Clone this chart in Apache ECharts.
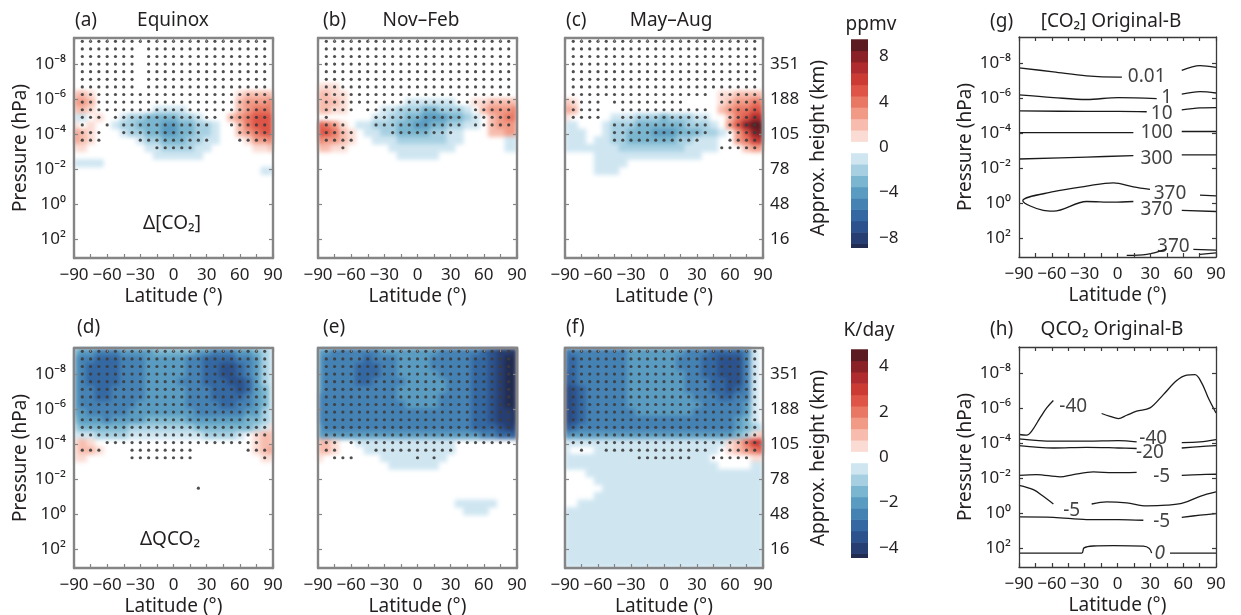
<!DOCTYPE html>
<html>
<head>
<meta charset="utf-8">
<script src="https://cdn.jsdelivr.net/npm/echarts@6.0.0/dist/echarts.min.js"></script>
<style>
html, body { margin: 0; padding: 0; background: #fff; }
#main { width: 1241px; height: 615px; }
</style>
</head>
<body>
<div id="main"></div>
<script>
// model grid: latitude columns (deg) and levels in scale heights above 1000 hPa
const LATS = [-90, -82.5, -75, -67.5, -60, -52.5, -45, -37.5, -30, -22.5, -15, -7.5, 0,
  7.5, 15, 22.5, 30, 37.5, 45, 52.5, 60, 67.5, 75, 82.5, 90];
const ZLEV = [28.3, 27.3, 26.3, 25.3, 24.3, 23.3, 22.3, 21.3, 20.3, 19.3, 18.3, 17.3, 16.3, 15.3,
  14.3, 13.3, 12.3, 11.3, 10.3, 9.3, 8.3, 7.3, 6.3, 5.3, 4.3, 3.3, 2.3, 1.3, 0.3];

// contour band per cell: '.' = 0, a..i = -1..-9, A..I = +1..+9 (1 ppmv or 0.5 K/day per band)
const FILL_A = [
  '.........................', '.........................', '.........................',
  '.........................', '.........................', '.........................',
  '.........................',
  'BBA.................ABBBB',
  'CCB.................BCCCD',
  'BBA.......aaaa......BCDDD',
  'aa.A..abbccccbba...BCDEEE',
  'A.A..abbcccddccbba..BDEEE',
  'CBA...abbccddccbba..BCDEE',
  'CBA.....abbcccbbaa...ACCD',
  'AA.......aabbbbaa.....AAB',
  '..........aaaaaa.........',
  'aaaa.....................',
  '.......................aa'
];
const FILL_B = [
  '.........................', '.........................', '.........................',
  '.........................', '.........................', '.........................',
  'AAA......................',
  'BBAA.....................',
  'BBBA.......aaaaaa..AABBBB',
  'BBAA....aabbbccbbba.BCCCD',
  '.......aabbccdddccba.BCDD',
  'EDCA.aabbbccddccbbaa.BCCC',
  'EEDBA.aabbccccbbaa...BBCC',
  'DCCBA..aaabbbbbbaa.....aa',
  'BBAA.....aaaaaaaa......aa',
  '..........aaaaa..........'
];
const FILL_C = [
  '.........................', '.........................', '.........................',
  '.........................', '.........................', '.........................',
  '.........................',
  '...................AABBBB',
  'BA.................ABCCDD',
  'CB.................BCDDEE',
  'A.....aaabbbcbbbaa..BDEGG',
  'aa...abbbccccccbbba.CEHII',
  'aaa..abbcccdddcccbba.CEHI',
  'aaa.aabbccccccbbaaa..CDFG',
  'aaaaaaabbbbbbbbaaaa...BCC',
  '....aaaaaaaaaaaaa........',
  '....aaaa.................',
  '....aaa..................'
];
const FILL_D = [
  'cddeeeddddcccccddeeeddcba',
  'deefffeeedddddeeffffeedba',
  'deffffeeedddddeeffggfedba',
  'deffffeeedddddeeffggfedba',
  'deffffeeeddddeeefffggfdba',
  'deeffeeeedddddeeefffgfdca',
  'deeffeeeedddddeeeffffedca',
  'deeeeeeeddddddeeeeffeedca',
  'ddeeeeeddddddddeeeeeeddba',
  'cdddeddddcccccdddddddccba',
  'bccccccbbbbbbbbcccccccbaA',
  'aaabbbbaaaaaaaaabbbba.ABB',
  'ABA...................ABB',
  'ABBA..................ABC',
  'AA.....................AA'
];
const FILL_E = [
  'ddeeeeeedddddddeeeeefghhi',
  'deeeeefeeeddddeeeeeffghii',
  'deeeefffeeddddeeeeeffghii',
  'deeeefffeedddddeeeeffghii',
  'deeeeffeeeedddddeeeffghii',
  'deeeeeeeeeddddddeeeffghii',
  'eeeeeeeeeedddddeeeeffghii',
  'eeeeeeeeeeeddddeeeeffghii',
  'eeeeeeeeeeeeeeeeeeeffghhi',
  'eeeeeeeeeeeeeeeeeeeffghhi',
  'deeeeeeeeeeeeeeeeeefffghh',
  'ddddddddddddddddddddeeffg',
  'BBA..aaaaaaaaaaaa........',
  'BBA...aaaaaaaaaaa........',
  'A.......aaaaaaaa.........',
  '.........aaaaaa..........',
  '.........................', '.........................', '.........................',
  '.........................',
  '.................aaaaa...',
  '..................aaa....'
];
const FILL_F = [
  'feeeeeeedddddddeeeffffea.',
  'ffeeeeeeddddddeeeffgggea.',
  'ffeeeeeeddddddeeeffgggea.',
  'gfeeeeeedddddddeeffgggea.',
  'gfeeeeeedddddddeeeffggea.',
  'hgfeeeeedddddddeeeffgfea.',
  'hgfeeeeeddddddddeeeffeea.',
  'hgfeeeeedddddddddeeeeeda.',
  'hgfeeeeeedddddddeeeeeeda.',
  'hgfeeeeeeeeeeeeeeeeeedca.',
  'gfeeeeeeeeeeeeeeeeeeedcba',
  'eddddddddddddddddddddcbAB',
  'aaaaaaaaaaaaaaaaaaaaABDFF',
  'a...aaaaaaaaaaaaaaa.ABCDE',
  'aaaaaaaaaaaaaaaaaa.....AA',
  'aaaaaaaaaaaaaaaaaaa....aa',
  '...aaaaaaaaaaaaaaaaaaaaaa',
  '....aaaaaaaaaaaaaaaaaaaaa',
  '.....aaaaaaaaaaaaaaaaaaaa',
  '....aaaaaaaaaaaaaaaaaaaaa',
  '..aaaaaaaaaaaaaaaaaaaaaaa',
  'aaaaaaaaaaaaaaaaaaaaaaaaa', 'aaaaaaaaaaaaaaaaaaaaaaaaa', 'aaaaaaaaaaaaaaaaaaaaaaaaa',
  'aaaaaaaaaaaaaaaaaaaaaaaaa', 'aaaaaaaaaaaaaaaaaaaaaaaaa', 'aaaaaaaaaaaaaaaaaaaaaaaaa',
  'aaaaaaaaaaaaaaaaaaaaaaaaa', 'aaaaaaaaaaaaaaaaaaaaaaaaa'
];

// significance stippling, '*' = dot
const ALL = '.***********************.';
const DOTS_A = [
  ALL,
  '.*******.***************.', '.*******.***************.', '.*******.***************.',
  '.*******.***************.', '.*******.***************.', '.*******.***************.',
  ALL, ALL, ALL,
  '.***.*************.*****.',
  '.*..*.***********..*****.',
  '.***..**********....****.',
  '.***....*********...****.',
  '..........*****..........'
];
const DOTS_B = [
  ALL, ALL, ALL, ALL, ALL, ALL, ALL, ALL, ALL,
  '.****.************.*****.',
  '.*.....***********.*****.',
  '.***...***********.*****.',
  '.****....********........',
  '.****....................',
  '...*.....................'
];
const DOTS_C = [
  ALL, ALL, ALL, ALL, ALL, ALL, ALL,
  '.*****************.*****.',
  '.****.*********....*****.',
  '.****..***********..****.',
  '.****..***********..****.',
  '......************..****.',
  '......************..****.',
  '......***********...****.',
  '...................*****.'
];
const DOTS_D = [
  ALL, ALL, ALL, ALL, ALL, ALL, ALL, ALL, ALL, ALL, ALL, ALL,
  '....*******************..',
  '.***...********......***.',
  '.......********........*.',
  '.........................', '.........................', '.........................',
  '...............*.........'
];
const DOTS_E = [
  ALL, ALL, ALL, ALL, ALL, ALL, ALL, ALL, ALL, ALL, ALL, ALL,
  '.**.********************.',
  '.**....**********........',
  '..***.......*.*..........'
];
const DOTS_F = [
  ALL, ALL, ALL, ALL, ALL, ALL, ALL, ALL, ALL, ALL, ALL, ALL, ALL,
  '..*..*************.*****.',
  '.........*******..*****..'
];

// contour lines of panels g and h: [latitude, log10(pressure/hPa)]
const G_LINES = [
  [[-90, -7.72], [-58.6, -7.49], [-28.2, -7.26], [0.8, -7.19], [4, -7.19]],
  [[58.7, -7.57], [75.4, -7.85], [90, -7.75]],
  [[-90, -6.17], [-58.6, -6.02], [-28.2, -5.91], [0.8, -6.02], [35.8, -5.96]],
  [[58.7, -6.21], [75.4, -6.36], [90, -6.28]],
  [[-90, -5.26], [-28.2, -5.23], [0.8, -5.23], [26.7, -5.21]],
  [[58.7, -5.32], [75.4, -5.43], [90, -5.45]],
  [[-90, -4.02], [14.5, -4.02]],
  [[58.7, -4.08], [90, -4.08]],
  [[-90, -2.51], [-28.2, -2.62], [14.5, -2.70]],
  [[58.7, -2.74], [90, -2.74]],
  [[29.7, -0.77], [14.5, -0.92], [-3.8, -1.15], [-28.2, -0.96], [-58.6, -0.64], [-86.5, -0.13],
   [-67.8, 0.43], [-58.6, 0.47], [-28.2, -0.08], [-3.8, -0.04], [14.5, -0.08]],
  [[75.4, -0.45], [90, -0.40]],
  [[58.7, 0.43], [90, 0.49]],
  [[8.4, 3.0], [26.7, 2.94], [44.9, 2.62]],
  [[69.3, 2.66], [90, 2.70]],
  [[75.4, 2.94], [90, 2.85]]
];
const G_LABELS = [[26.7, -7.19, '0.01'], [44.9, -6.0, '1'], [40.4, -5.08, '10'], [35.8, -4.0, '100'],
  [35.8, -2.53, '300'], [48, -0.51, '370'], [35.8, 0.40, '370'], [51, 2.47, '370']];

const H_LINES = [
  [[-90, -4.48], [-83, -4.44], [-78.4, -4.67], [-70.8, -5.43], [-64.7, -6.0], [-58.6, -6.42]],
  [[-14.5, -5.68], [-6.8, -5.52], [0.8, -5.39], [8.4, -5.58], [17.5, -5.81], [29.7, -6.0], [41.9, -6.76],
   [54.1, -7.56], [63.2, -7.87], [70.8, -7.9], [76.9, -7.43], [83, -6.57], [90, -5.71]],
  [[-90, -4.23], [-58.6, -4.10], [-28.2, -4.10], [0.8, -4.13], [17.5, -4.06]],
  [[58.7, -4.02], [75.4, -4.06], [90, -4.19]],
  [[-90, -3.85], [-58.6, -3.71], [-28.2, -3.75], [0.8, -3.71], [17.5, -3.68]],
  [[58.7, -3.71], [75.4, -3.79], [90, -3.85]],
  [[-90, -2.15], [-73.9, -2.19], [-52.5, -2.06], [-40.4, -2.19], [-22.1, -2.34], [-3.8, -2.30], [17.5, -2.32]],
  [[58.7, -2.15], [75.4, -2.19], [90, -2.21]],
  [[-90, -1.58], [-76.9, -1.33], [-67.8, -0.95], [-58.6, -0.51]],
  [[-23.6, -0.51], [-9.9, -0.63], [8.4, -0.57], [26.7, -0.40], [44.9, -0.44], [60.1, -0.57], [75.4, -0.95], [90, -1.2]],
  [[-90, 0.23], [-58.6, 0.25], [-28.2, 0.38], [0.8, 0.38], [23.6, 0.42]],
  [[58.7, 0.25], [75.4, 0.13], [90, 0.04]],
  [[-90, 2.30], [-32.7, 2.30], [-30.6, 2.0], [-22.1, 1.89], [-3.8, 1.87], [23.6, 1.90], [29.1, 2.03], [31.2, 2.30]],
  [[48, 2.30], [90, 2.30]]
];
const H_LABELS = [[-40.4, -6.1, '-40'], [32.7, -4.23, '-40'], [29.7, -3.43, '-20'], [40.4, -2.06, '-5'],
  [-41.9, -0.15, '-5'], [40.4, 0.48, '-5'], [38.5, 2.34, '0']];

// axis ticks
const XTICKS = [-90, -75, -60, -45, -30, -15, 0, 15, 30, 45, 60, 75, 90];
const XLABELS = [-90, -60, -30, 0, 30, 60, 90];
const YTICKS = [-8, -6, -4, -2, 0, 2];
const HEIGHT_KM = [351, 188, 105, 78, 48, 16];
const CB_PPMV = [-9, -8, -7, -6, -5, -4, -3, -2, -1, 0, 1, 2, 3, 4, 5, 6, 7, 8, 9];
const CB_PPMV_TICKS = [-8, -4, 0, 4, 8];
const CB_KDAY = [-4.5, -4, -3.5, -3, -2.5, -2, -1.5, -1, -0.5, 0, 0.5, 1, 1.5, 2, 2.5, 3, 3.5, 4, 4.5];
const CB_KDAY_TICKS = [-4, -2, 0, 2, 4];

// colours for bands -9 .. +9
const BAND_COLORS = ['#222b50', '#263e72', '#2b528c', '#3468a2', '#4582b4', '#5a9cc1', '#7ab6cf', '#a6d0e2', '#cfe6f1',
  '#ffffff',
  '#fbdcd4', '#f7bcad', '#f19a86', '#e87763', '#de5446', '#cc3a34', '#b02b2d', '#8a2127', '#5c1b20'];

const FONT = 'Noto Sans';
const TXT = '#231f20';
const YMIN = -9.48, YMAX = 3.09;
const HALF_DEC = 0.5 / Math.LN10;
const SUP = {'-': '\u207b', '0': '\u2070', '1': '\u00b9', '2': '\u00b2', '3': '\u00b3', '4': '\u2074',
  '5': '\u2075', '6': '\u2076', '7': '\u2077', '8': '\u2078', '9': '\u2079'};

function bandOf(ch) {
  if (!ch || ch === '.') return 0;
  const c = ch.charCodeAt(0);
  return c >= 97 ? -(c - 96) : c - 64;
}
function minus(v) { return v < 0 ? '\u2212' + (-v) : String(v); }
function pow10(v) { return '10' + String(v).split('').map(c => SUP[c]).join(''); }
function levelLog(i) { return 3 - ZLEV[i] / Math.LN10; }

function cellData(rows) {
  const out = [];
  rows.forEach((row, i) => {
    for (let k = 0; k < LATS.length; k++) {
      const b = bandOf(row[k]);
      if (b !== 0) out.push([LATS[k], levelLog(i), b]);
    }
  });
  return out;
}
function dotData(rows) {
  const out = [];
  rows.forEach((row, i) => {
    for (let k = 0; k < LATS.length; k++) if (row[k] === '*') out.push([LATS[k], levelLog(i)]);
  });
  return out;
}
function clipTo(params, r) {
  return echarts.graphic.clipRectByRect(r, {
    x: params.coordSys.x, y: params.coordSys.y, width: params.coordSys.width, height: params.coordSys.height
  });
}
function renderCell(params, api) {
  const lat = api.value(0), lp = api.value(1), b = api.value(2);
  const p0 = api.coord([lat - 3.75, lp - HALF_DEC]);
  const p1 = api.coord([lat + 3.75, lp + HALF_DEC]);
  const r = clipTo(params, {x: Math.min(p0[0], p1[0]), y: Math.min(p0[1], p1[1]),
    width: Math.abs(p1[0] - p0[0]) + 0.6, height: Math.abs(p1[1] - p0[1]) + 0.6});
  if (!r) return;
  return {type: 'rect', shape: r, style: {fill: BAND_COLORS[b + 9]}};
}
function barRenderer(step) {
  return function (params, api) {
    const v = api.value(0);
    const p0 = api.coord([0, v + step / 2]);
    const p1 = api.coord([1, v - step / 2]);
    const r = clipTo(params, {x: p0[0], y: p0[1], width: p1[0] - p0[0], height: p1[1] - p0[1] + 0.5});
    if (!r) return;
    return {type: 'rect', shape: r, style: {fill: BAND_COLORS[Math.round(v / step) + 9]}};
  };
}

const grids = [], xAxis = [], yAxis = [], series = [], masks = [];
const nameStyle = {fontSize: 19, fontFamily: FONT, color: TXT};
const labStyle = {fontSize: 17, fontFamily: FONT, color: TXT};

function addFramedGrid(left, top, width, opts) {
  grids.push({left: left, top: top, width: width, height: 220, containLabel: false, outerBoundsMode: 'none'});
  const gi = grids.length - 1;
  const line = {show: true, onZero: false, lineStyle: {color: opts.frame, width: opts.frameW}};
  const tick = {inside: true, length: 4, lineStyle: {color: opts.frame, width: 1.2}};
  xAxis.push({
    gridIndex: gi, type: 'value', min: -90, max: 90, position: 'bottom', z: 5, zlevel: 1,
    axisLine: line, splitLine: {show: false},
    axisTick: Object.assign({customValues: XTICKS}, tick),
    axisLabel: Object.assign({customValues: XLABELS, formatter: minus, margin: 9}, labStyle),
    name: 'Latitude (\u00b0)', nameLocation: 'middle', nameGap: 29, nameTextStyle: nameStyle
  });
  xAxis.push({
    gridIndex: gi, type: 'value', min: -90, max: 90, position: 'top', z: 5, zlevel: 1,
    axisLine: line, splitLine: {show: false},
    axisTick: Object.assign({customValues: XTICKS}, tick), axisLabel: {show: false}
  });
  yAxis.push({
    gridIndex: gi, type: 'value', min: YMIN, max: YMAX, inverse: true, position: 'left', z: 5, zlevel: 1,
    axisLine: line, splitLine: {show: false},
    axisTick: Object.assign({customValues: YTICKS}, tick),
    axisLabel: Object.assign({show: !!opts.left, customValues: YTICKS, formatter: pow10, margin: 8}, labStyle),
    name: opts.left ? 'Pressure (hPa)' : '', nameLocation: 'middle', nameRotate: 90, nameGap: 44,
    nameTextStyle: nameStyle
  });
  yAxis.push({
    gridIndex: gi, type: 'value', min: YMIN, max: YMAX, inverse: true, position: 'right', z: 5, zlevel: 1,
    axisLine: line, splitLine: {show: false},
    axisTick: Object.assign({customValues: YTICKS}, tick),
    axisLabel: Object.assign({show: !!opts.right, customValues: YTICKS,
      formatter: v => String(HEIGHT_KM[YTICKS.indexOf(v)]), margin: 7}, labStyle),
    name: opts.right ? 'Approx. height (km)' : '', nameLocation: 'middle', nameRotate: 90, nameGap: 46,
    nameTextStyle: nameStyle
  });
  return {x: xAxis.length - 2, y: yAxis.length - 2};
}

const HEAT = [
  {fill: FILL_A, dots: DOTS_A, left: 74, top: 38, w: 199, l: true},
  {fill: FILL_B, dots: DOTS_B, left: 318, top: 38, w: 199},
  {fill: FILL_C, dots: DOTS_C, left: 565, top: 38, w: 198, r: true},
  {fill: FILL_D, dots: DOTS_D, left: 74, top: 348, w: 199, l: true},
  {fill: FILL_E, dots: DOTS_E, left: 318, top: 348, w: 199},
  {fill: FILL_F, dots: DOTS_F, left: 565, top: 348, w: 198, r: true}
];
HEAT.forEach(p => {
  const ax = addFramedGrid(p.left, p.top, p.w, {frame: '#858585', frameW: 2.4, left: p.l, right: p.r});
  // filled contours live on their own canvas layer (zlevel 0), softened below
  series.push({
    type: 'custom', xAxisIndex: ax.x, yAxisIndex: ax.y, renderItem: renderCell, clip: true,
    data: cellData(p.fill), silent: true, z: 1, zlevel: 0
  });
  series.push({
    type: 'scatter', xAxisIndex: ax.x, yAxisIndex: ax.y, data: dotData(p.dots), symbol: 'circle',
    symbolSize: 3.2, itemStyle: {color: '#3c3c3c', opacity: 0.9}, silent: true, z: 3, zlevel: 1
  });
  // white ring just outside the frame hides the blur halo
  masks.push({
    type: 'rect', zlevel: 1, z: 4, silent: true,
    shape: {x: p.left - 4, y: p.top - 4, width: p.w + 8, height: 228},
    style: {fill: null, stroke: '#ffffff', lineWidth: 4}
  });
});

// colour bars
[[37, CB_PPMV, CB_PPMV_TICKS, -8.9, 9.7, 1], [347, CB_KDAY, CB_KDAY_TICKS, -4.45, 4.85, 0.5]].forEach(cb => {
  grids.push({left: 851, top: cb[0], width: 17, height: 211, containLabel: false, outerBoundsMode: 'none'});
  const gi = grids.length - 1;
  xAxis.push({gridIndex: gi, type: 'value', min: 0, max: 1, show: false});
  yAxis.push({
    gridIndex: gi, type: 'value', min: cb[3], max: cb[4], position: 'right', zlevel: 1,
    axisLine: {show: false}, axisTick: {show: false}, splitLine: {show: false},
    axisLabel: Object.assign({customValues: cb[2], formatter: minus, margin: 11}, labStyle)
  });
  series.push({
    type: 'custom', xAxisIndex: xAxis.length - 1, yAxisIndex: yAxis.length - 1, zlevel: 1,
    renderItem: barRenderer(cb[5]), clip: true, silent: true, data: cb[1].map(v => [v])
  });
});

// contour panels g and h
[[37, G_LINES, G_LABELS], [347, H_LINES, H_LABELS]].forEach(pn => {
  const ax = addFramedGrid(1019, pn[0], 197, {frame: '#3a3a3a', frameW: 1.3, left: true});
  pn[1].forEach(pts => series.push({
    type: 'line', xAxisIndex: ax.x, yAxisIndex: ax.y, data: pts, smooth: 0.35, symbol: 'none', zlevel: 1,
    lineStyle: {color: '#1a1a1a', width: 1.3}, silent: true, clip: true
  }));
  series.push({
    type: 'scatter', xAxisIndex: ax.x, yAxisIndex: ax.y, symbolSize: 0, silent: true, zlevel: 1,
    data: pn[2].map(d => ({value: [d[0], d[1]], name: d[2],
      label: d[2] === '0' ? {fontStyle: 'italic'} : undefined})),
    label: {show: true, position: 'inside', formatter: '{b}', fontSize: 19, fontFamily: FONT, color: '#111'}
  });
});

const TEXTS = [
  [75, 21, '(a)', 'left'], [173, 21, 'Equinox', 'center'],
  [323, 21, '(b)', 'left'], [421, 21, 'Nov\u2013Feb', 'center'],
  [566, 21, '(c)', 'left'], [671, 21, 'May\u2013Aug', 'center'],
  [871, 25, 'ppmv', 'center'],
  [990, 22, '(g)', 'left'], [1111, 22, '[CO\u2082] Original-B', 'center'],
  [77, 328, '(d)', 'left'], [323, 328, '(e)', 'left'], [566, 328, '(f)', 'left'],
  [869, 331, 'K/day', 'center'],
  [990, 330, '(h)', 'left'], [1112, 330, 'QCO\u2082 Original-B', 'center'],
  [172, 224, '\u0394[CO\u2082]', 'center'], [170, 540, '\u0394QCO\u2082', 'center']
];

const chart = echarts.init(document.getElementById('main'));
chart.setOption({
  animation: false,
  backgroundColor: '#ffffff',
  grid: grids,
  xAxis: xAxis,
  yAxis: yAxis,
  series: series,
  graphic: masks.concat(TEXTS.map(t => ({
    type: 'text', x: t[0], y: t[1], z: 10, zlevel: 1, silent: true,
    style: {text: t[2], fontSize: 19, fontFamily: FONT, fill: TXT, align: t[3], verticalAlign: 'middle'}
  })))
});

// soften the filled-contour layer like the original smoothed fields
const fillLayer = chart.getZr().painter.getLayer(0);
if (fillLayer && fillLayer.dom) fillLayer.dom.style.filter = 'blur(2.2px)';
</script>
</body>
</html>
